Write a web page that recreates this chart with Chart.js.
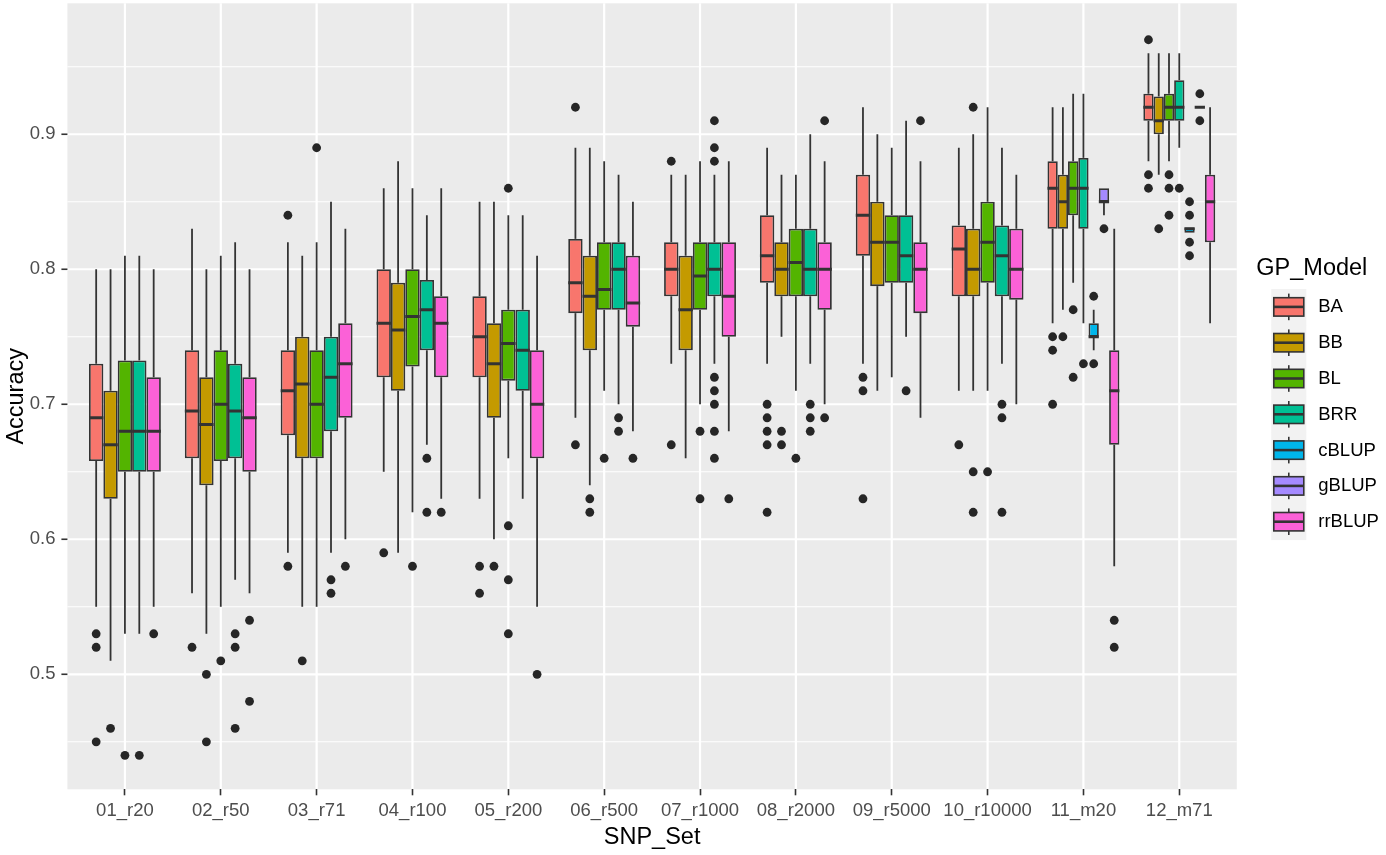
<!DOCTYPE html>
<html>
<head>
<meta charset="utf-8">
<script src="https://cdn.jsdelivr.net/npm/chart.js@4.4.1/dist/chart.umd.min.js"></script>
<style>
html,body{margin:0;padding:0;background:#ffffff;}
#wrap{width:1386px;height:855px;position:relative;}
</style>
</head>
<body>
<div id="wrap"><canvas id="c" width="1386" height="855"></canvas></div>
<script>
// ---------------- DATA ----------------
const snpSets = ['01_r20','02_r50','03_r71','04_r100','05_r200','06_r500','07_r1000','08_r2000','09_r5000','10_r10000','11_m20','12_m71'];
const models = ['BA','BB','BL','BRR','cBLUP','gBLUP','rrBLUP'];
const yMajorTicks = [0.5, 0.6, 0.7, 0.8, 0.9];
const yMinorTicks = [0.45, 0.55, 0.65, 0.75, 0.85, 0.95];

// five-number summaries per SNP set: [lower whisker, Q1, median, Q3, upper whisker]; null = not fitted
const BA = [
  [0.55,0.658,0.69,0.73,0.80],[0.56,0.66,0.695,0.74,0.83],[0.59,0.677,0.71,0.74,0.82],[0.65,0.72,0.76,0.80,0.86],
  [0.63,0.72,0.75,0.78,0.85],[0.69,0.7675,0.79,0.8225,0.89],[0.73,0.78,0.80,0.82,0.87],[0.73,0.79,0.81,0.84,0.89],
  [0.73,0.81,0.84,0.87,0.92],[0.71,0.78,0.815,0.8325,0.89],[0.76,0.83,0.86,0.88,0.92],[0.88,0.91,0.92,0.93,0.96]];
const BB = [
  [0.51,0.63,0.67,0.71,0.80],[0.53,0.64,0.685,0.72,0.80],[0.55,0.66,0.715,0.75,0.81],[0.59,0.71,0.755,0.79,0.88],
  [0.60,0.69,0.73,0.76,0.85],[0.64,0.74,0.78,0.81,0.89],[0.66,0.74,0.77,0.81,0.87],[0.75,0.78,0.80,0.82,0.87],
  [0.71,0.7875,0.82,0.85,0.90],[0.71,0.78,0.80,0.83,0.90],[0.77,0.83,0.85,0.87,0.92],[0.87,0.90,0.91,0.928,0.96]];
const BL = [
  [0.53,0.65,0.68,0.7325,0.81],[0.55,0.658,0.70,0.74,0.81],[0.55,0.66,0.70,0.74,0.82],[0.62,0.728,0.765,0.80,0.86],
  [0.66,0.7175,0.745,0.77,0.84],[0.71,0.77,0.785,0.82,0.88],[0.70,0.77,0.795,0.82,0.88],[0.71,0.78,0.805,0.83,0.87],
  [0.72,0.79,0.82,0.84,0.89],[0.71,0.79,0.82,0.85,0.92],[0.79,0.84,0.86,0.88,0.93],[0.88,0.91,0.92,0.93,0.96]];
const BRR = [
  [0.53,0.65,0.68,0.7325,0.81],[0.57,0.66,0.695,0.73,0.82],[0.59,0.68,0.72,0.75,0.85],[0.67,0.74,0.77,0.792,0.84],
  [0.63,0.71,0.74,0.77,0.84],[0.70,0.77,0.80,0.82,0.87],[0.73,0.78,0.80,0.82,0.87],[0.73,0.78,0.80,0.83,0.90],
  [0.75,0.79,0.81,0.84,0.91],[0.73,0.78,0.81,0.8325,0.89],[0.76,0.83,0.86,0.8825,0.93],[0.89,0.91,0.92,0.94,0.96]];
const cBLUP = [null,null,null,null,null,null,null,null,null,null,
  [0.74,0.75,0.75,0.76,0.77],[0.827,0.827,0.83,0.831,0.831]];
const gBLUP = [null,null,null,null,null,null,null,null,null,null,
  [0.84,0.85,0.85,0.86,0.86],[0.92,0.92,0.92,0.92,0.92]];
const rrBLUP = [
  [0.55,0.65,0.68,0.72,0.80],[0.56,0.65,0.69,0.72,0.80],[0.60,0.69,0.73,0.76,0.83],[0.63,0.72,0.76,0.78,0.86],
  [0.55,0.66,0.70,0.74,0.81],[0.68,0.7575,0.775,0.81,0.85],[0.68,0.75,0.78,0.82,0.88],[0.70,0.77,0.80,0.82,0.88],
  [0.69,0.7675,0.80,0.82,0.88],[0.70,0.7775,0.80,0.83,0.87],[0.58,0.67,0.71,0.74,0.83],[0.76,0.82,0.85,0.87,0.92]];

// outliers per SNP set
const BA_out = [[0.53,0.52,0.45],[0.52],[0.84,0.58],[0.59],[0.58,0.56],[0.92,0.67],[0.88,0.67],[0.70,0.69,0.68,0.67,0.62],[0.72,0.71,0.63],[0.67],[0.75,0.74,0.70],[0.97,0.87,0.86]];
const BB_out = [[0.46],[0.50,0.45],[0.51],[],[0.58],[0.63,0.62],[],[0.68,0.67],[],[0.92,0.65,0.62],[0.75],[0.83]];
const BL_out = [[0.44],[0.51],[0.89],[0.58],[0.86,0.61,0.57,0.53],[0.66],[0.68,0.63],[0.66],[],[0.65],[0.77,0.72],[0.87,0.86,0.84]];
const BRR_out = [[0.44],[0.53,0.52,0.46],[0.57,0.56],[0.66,0.62],[],[0.69,0.68],[0.91,0.89,0.88,0.72,0.71,0.70,0.68,0.66],[0.70,0.69,0.68],[0.71],[0.70,0.69,0.62],[0.73],[0.86]];
const cBLUP_out = [[],[],[],[],[],[],[],[],[],[],[0.78,0.73],[0.85,0.84,0.82,0.81]];
const gBLUP_out = [[],[],[],[],[],[],[],[],[],[],[0.83],[0.93,0.91]];
const rrBLUP_out = [[0.53],[0.54,0.48],[0.58],[0.62],[0.50],[0.66],[0.63],[0.91,0.69],[0.91],[],[0.54,0.52],[]];

// ---------------- STYLE ----------------
const fills = ['#F8766D','#C49A00','#53B400','#00C094','#00B6EB','#A58AFF','#FB61D7'];
const FONT = '"Liberation Sans", Arial, Helvetica, sans-serif';
const LINE = '#333333';

const stats = {BA, BB, BL, BRR, cBLUP, gBLUP, rrBLUP};
const outs = {BA: BA_out, BB: BB_out, BL: BL_out, BRR: BRR_out, cBLUP: cBLUP_out, gBLUP: gBLUP_out, rrBLUP: rrBLUP_out};

function line(ctx, x1, y1, x2, y2) { ctx.beginPath(); ctx.moveTo(x1, y1); ctx.lineTo(x2, y2); ctx.stroke(); }

function panelBounds(chart) {
  const x = chart.scales.x;
  const u = x.getPixelForTick(1) - x.getPixelForTick(0);
  return { L: x.getPixelForTick(0) - 0.6 * u, R: x.getPixelForTick(snpSets.length - 1) + 0.6 * u };
}

const panelPlugin = {
  id: 'panel',
  beforeDraw(chart) {
    const {ctx, scales: {x, y}} = chart;
    const {L, R} = panelBounds(chart);
    ctx.save();
    ctx.fillStyle = '#EBEBEB';
    ctx.fillRect(L, y.top, R - L, y.bottom - y.top);
    ctx.strokeStyle = '#FFFFFF';
    ctx.lineWidth = 1.1;
    yMinorTicks.forEach(v => { const p = y.getPixelForValue(v); line(ctx, L, p, R, p); });
    ctx.lineWidth = 2.2;
    yMajorTicks.forEach(v => { const p = y.getPixelForValue(v); line(ctx, L, p, R, p); });
    snpSets.forEach((s, i) => { const p = x.getPixelForTick(i); line(ctx, p, y.top, p, y.bottom); });
    ctx.strokeStyle = LINE;
    ctx.lineWidth = 1.6;
    yMajorTicks.forEach(v => { const p = y.getPixelForValue(v); line(ctx, L - 6, p, L, p); });
    ctx.restore();
  }
};

const boxPlugin = {
  id: 'boxparts',
  beforeDatasetsDraw(chart) {
    const {ctx, scales: {y}} = chart;
    ctx.save();
    ctx.strokeStyle = LINE;
    ctx.lineWidth = 1.8;
    models.forEach((m, i) => {
      const meta = chart.getDatasetMeta(i);
      stats[m].forEach((s, j) => {
        if (!s) return;
        const el = meta.data[j];
        if (!el) return;
        if (s[0] < s[1]) line(ctx, el.x, y.getPixelForValue(s[0]), el.x, y.getPixelForValue(s[1]));
        if (s[4] > s[3]) line(ctx, el.x, y.getPixelForValue(s[3]), el.x, y.getPixelForValue(s[4]));
      });
    });
    ctx.restore();
  },
  afterDatasetsDraw(chart) {
    const {ctx, scales: {y}} = chart;
    ctx.save();
    models.forEach((m, i) => {
      const meta = chart.getDatasetMeta(i);
      stats[m].forEach((s, j) => {
        if (!s) return;
        const el = meta.data[j];
        if (!el) return;
        ctx.strokeStyle = LINE;
        ctx.lineWidth = 3;
        const py = y.getPixelForValue(s[2]);
        line(ctx, el.x - el.width / 2, py, el.x + el.width / 2, py);
        ctx.fillStyle = '#262626';
        outs[m][j].forEach(v => {
          ctx.beginPath();
          ctx.arc(el.x, y.getPixelForValue(v), 4.4, 0, Math.PI * 2);
          ctx.fill();
        });
      });
    });
    ctx.restore();
  }
};

const legendPlugin = {
  id: 'ggLegend',
  afterDraw(chart) {
    const {ctx} = chart;
    const {R} = panelBounds(chart);
    const x0 = R + 19.5;
    ctx.save();
    ctx.fillStyle = '#000000';
    ctx.font = '23.5px ' + FONT;
    ctx.textBaseline = 'middle';
    ctx.textAlign = 'left';
    ctx.fillText('GP_Model', x0, 269);
    const step = 35.8, top = 289;
    models.forEach((m, i) => {
      const cy = top + step * i + step / 2;
      const kx = x0 + 15;
      ctx.fillStyle = '#F2F2F2';
      ctx.fillRect(kx, cy - step / 2, 35, step + 0.5);
      const cx = kx + 17.5;
      ctx.strokeStyle = LINE;
      ctx.lineWidth = 1.6;
      line(ctx, cx, cy - 13.3, cx, cy + 13.3);
      ctx.fillStyle = fills[i];
      ctx.fillRect(kx + 2.5, cy - 9.2, 30, 18.4);
      ctx.strokeRect(kx + 2.5, cy - 9.2, 30, 18.4);
      ctx.lineWidth = 2.6;
      line(ctx, kx + 2.5, cy, kx + 32.5, cy);
      ctx.fillStyle = '#000000';
      ctx.font = '18.5px ' + FONT;
      ctx.fillText(m, kx + 47, cy + 0.5);
    });
    ctx.restore();
  }
};

const datasets = models.map((m, i) => ({
  label: m,
  data: stats[m].map(s => (s ? [s[1], s[3]] : null)),
  backgroundColor: fills[i],
  borderColor: LINE,
  borderWidth: 1.8,
  borderSkipped: false,
  skipNull: true,
  categoryPercentage: 0.75,
  barPercentage: 1.0
}));

new Chart(document.getElementById('c'), {
  type: 'bar',
  data: { labels: snpSets, datasets },
  plugins: [panelPlugin, boxPlugin, legendPlugin],
  options: {
    responsive: false,
    animation: false,
    devicePixelRatio: 1,
    layout: { autoPadding: false, padding: { top: 3.3, right: 158.8, bottom: 0, left: 0 } },
    plugins: { legend: { display: false }, tooltip: { enabled: false } },
    scales: {
      x: {
        type: 'category',
        offset: true,
        grid: { display: true, drawOnChartArea: false, drawTicks: true, tickLength: 6, tickColor: LINE, tickWidth: 1.6, offset: false },
        border: { display: false },
        ticks: { color: '#4D4D4D', font: { family: FONT, size: 18.5 }, padding: 5, maxRotation: 0, autoSkip: false },
        title: { display: true, text: 'SNP_Set', color: '#000000', font: { family: FONT, size: 23.5 }, padding: { top: 0, bottom: 3 } },
        afterFit: s => { s.height = 65.7; s.paddingLeft = 0; s.paddingRight = 0; }
      },
      y: {
        type: 'linear',
        min: 0.4148,
        max: 0.997,
        afterBuildTicks: s => { s.ticks = yMinorTicks.concat(yMajorTicks).sort((a, b) => a - b).map(v => ({ value: v })); },
        grid: { display: false, drawTicks: false },
        border: { display: false },
        ticks: {
          color: '#4D4D4D', font: { family: FONT, size: 18.5 }, padding: 21.5,
          callback: v => (yMajorTicks.some(t => Math.abs(t - v) < 1e-6) ? Number(v).toFixed(1) : '')
        },
        title: { display: true, text: 'Accuracy', color: '#000000', font: { family: FONT, size: 23.5 }, padding: { top: 2, bottom: 0 } },
        afterFit: s => { s.width = 77.0; s.paddingTop = 0; s.paddingBottom = 0; }
      }
    }
  }
});
</script>
</body>
</html>
